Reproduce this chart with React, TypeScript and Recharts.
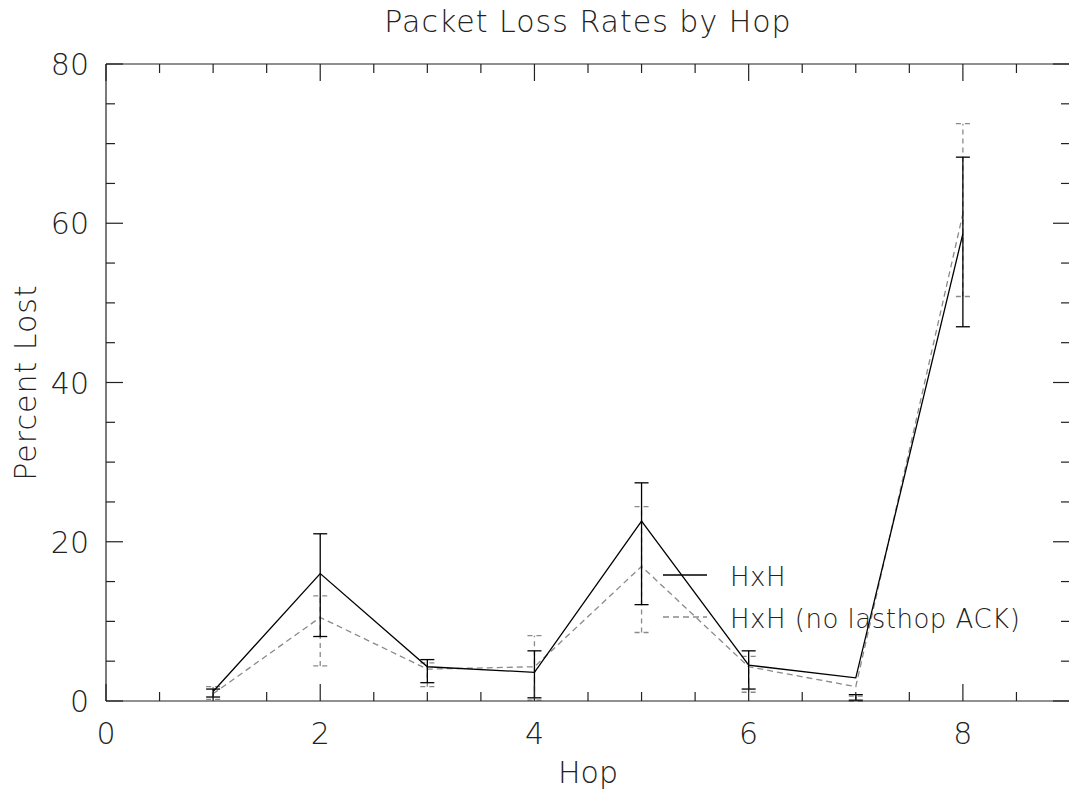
import React from "react"
import {
  ComposedChart,
  Line,
  XAxis,
  YAxis,
  ErrorBar,
  Label,
} from "recharts"

const hops = [1, 2, 3, 4, 5, 6, 7, 8]

// HxH (solid black)
const hxh = [1.2, 16.0, 4.3, 3.6, 22.6, 4.5, 2.9, 58.7]
const hxhLow = [0.5, 8.1, 2.3, 0.4, 12.1, 1.5, 0.1, 47.0]
const hxhHigh = [1.5, 21.0, 5.2, 6.3, 27.4, 6.3, 0.8, 68.3]

// HxH (no lasthop ACK) (dashed grey)
const noAck = [0.9, 10.5, 4.0, 4.3, 16.9, 4.3, 1.8, 61.2]
const noAckLow = [0.2, 4.4, 1.8, 0.1, 8.6, 1.1, 0.0, 50.8]
const noAckHigh = [1.8, 13.2, 4.8, 8.2, 24.4, 5.6, 0.6, 72.5]

const xTicks = [0, 0.5, 1, 1.5, 2, 2.5, 3, 3.5, 4, 4.5, 5, 5.5, 6, 6.5, 7, 7.5, 8, 8.5, 9]
const xLabels = [0, 2, 4, 6, 8]
const yTicks = [0, 5, 10, 15, 20, 25, 30, 35, 40, 45, 50, 55, 60, 65, 70, 75, 80]
const yLabels = [0, 20, 40, 60, 80]

const rows = hops.map((hop, i) => ({
  hop,
  hxh: hxh[i],
  hxhErr: [hxh[i] - hxhLow[i], hxhHigh[i] - hxh[i]],
  noAck: noAck[i],
  noAckErr: [noAck[i] - noAckLow[i], noAckHigh[i] - noAck[i]],
}))

const FONT = '"DejaVu Sans", sans-serif'
const INK = "#222"
const GREY = "#8a8a8a"

function BottomTick(props: any) {
  const { x, y, payload } = props
  const major = xLabels.includes(payload.value)
  return (
    <g>
      <line x1={x} y1={y} x2={x} y2={y - (major ? 17 : 9)} stroke={INK} strokeWidth={1.2} />
      {major && (
        <text x={x} y={y + 43} textAnchor="middle" fontSize={30} fontWeight={200} fill={INK} fontFamily={FONT}>
          {payload.value}
        </text>
      )}
    </g>
  )
}

function TopTick(props: any) {
  const { x, y, payload } = props
  const major = xLabels.includes(payload.value)
  return <line x1={x} y1={y} x2={x} y2={y + (major ? 17 : 9)} stroke={INK} strokeWidth={1.2} />
}

function LeftTick(props: any) {
  const { x, y, payload } = props
  const major = yLabels.includes(payload.value)
  return (
    <g>
      <line x1={x} y1={y} x2={x + (major ? 17 : 9)} y2={y} stroke={INK} strokeWidth={1.2} />
      {major && (
        <text x={x - 17} y={y + 11} textAnchor="end" fontSize={30} fontWeight={200} fill={INK} fontFamily={FONT}>
          {payload.value}
        </text>
      )}
    </g>
  )
}

function RightTick(props: any) {
  const { x, y, payload } = props
  const major = yLabels.includes(payload.value)
  return <line x1={x} y1={y} x2={x - (major ? 17 : 9)} y2={y} stroke={INK} strokeWidth={1.2} />
}

function YTitle(props: any) {
  const { viewBox } = props
  const cx = viewBox.x + 25
  const cy = viewBox.y + viewBox.height / 2
  return (
    <text
      x={cx}
      y={cy}
      transform={`rotate(-90, ${cx}, ${cy})`}
      textAnchor="middle"
      dominantBaseline="central"
      fontSize={30}
      fontWeight={200}
      letterSpacing={1}
      fill={INK}
      fontFamily={FONT}
    >
      Percent Lost
    </text>
  )
}

export default function App() {
  return (
    <div
      style={{
        position: "absolute",
        left: 0,
        top: 0,
        width: 1069,
        height: 797,
        overflow: "hidden",
        background: "#fff",
        fontFamily: FONT,
      }}
    >
      <div
        style={{
          position: "absolute",
          left: 106,
          width: 964,
          top: 4,
          textAlign: "center",
          fontSize: 30,
          fontWeight: 200,
          letterSpacing: 1,
          color: INK,
        }}
      >
        Packet Loss Rates by Hop
      </div>

      <ComposedChart width={1080} height={797} data={rows} margin={{ top: 63, right: 9, bottom: 0, left: 0 }}>
        <XAxis
          dataKey="hop"
          type="number"
          domain={[0, 9]}
          ticks={xTicks}
          interval={0}
          height={96}
          tickSize={0}
          tickMargin={0}
          tick={BottomTick}
          axisLine={{ stroke: INK, strokeWidth: 1.2 }}
          allowDataOverflow
        >
          <Label
            value="Hop"
            position="insideBottom"
            offset={14}
            fontSize={30}
            fontWeight={200}
            fill={INK}
            fontFamily={FONT}
          />
        </XAxis>
        <XAxis
          xAxisId="top"
          orientation="top"
          dataKey="hop"
          type="number"
          domain={[0, 9]}
          ticks={xTicks}
          interval={0}
          height={1}
          tickSize={0}
          tickMargin={0}
          tick={TopTick}
          axisLine={{ stroke: INK, strokeWidth: 1.2 }}
          allowDataOverflow
        />
        <YAxis
          type="number"
          domain={[0, 80]}
          ticks={yTicks}
          interval={0}
          width={106}
          tickSize={0}
          tickMargin={0}
          tick={LeftTick}
          axisLine={{ stroke: INK, strokeWidth: 1.2 }}
          allowDataOverflow
        >
          <Label content={YTitle} />
        </YAxis>
        <YAxis
          yAxisId="right"
          orientation="right"
          type="number"
          domain={[0, 80]}
          ticks={yTicks}
          interval={0}
          width={1}
          tickSize={0}
          tickMargin={0}
          tick={RightTick}
          axisLine={{ stroke: INK, strokeWidth: 1.2 }}
          allowDataOverflow
        />

        <Line
          xAxisId="top"
          yAxisId="right"
          type="linear"
          dataKey="noAck"
          stroke={GREY}
          strokeWidth={1.3}
          strokeDasharray="6 4"
          dot={false}
          isAnimationActive={false}
        >
          <ErrorBar dataKey="noAckErr" width={7} stroke={GREY} strokeWidth={1.3} strokeDasharray="5 4" />
        </Line>
        <Line
          type="linear"
          dataKey="hxh"
          stroke="#000"
          strokeWidth={1.3}
          dot={false}
          isAnimationActive={false}
        >
          <ErrorBar dataKey="hxhErr" width={7} stroke="#000" strokeWidth={1.3} />
        </Line>
      </ComposedChart>

      <svg style={{ position: "absolute", left: 655, top: 555 }} width={400} height={80}>
        <line x1={8} y1={20} x2={52} y2={20} stroke="#000" strokeWidth={1.3} />
        <text x={75} y={31} fontSize={26} fontWeight={200} letterSpacing={0.5} fill={INK} fontFamily={FONT}>
          HxH
        </text>
        <line x1={8} y1={62} x2={52} y2={62} stroke={GREY} strokeWidth={1.3} strokeDasharray="6 4" />
        <text x={75} y={73} fontSize={26} fontWeight={200} letterSpacing={0.5} fill={INK} fontFamily={FONT}>
          HxH (no lasthop ACK)
        </text>
      </svg>
    </div>
  )
}
